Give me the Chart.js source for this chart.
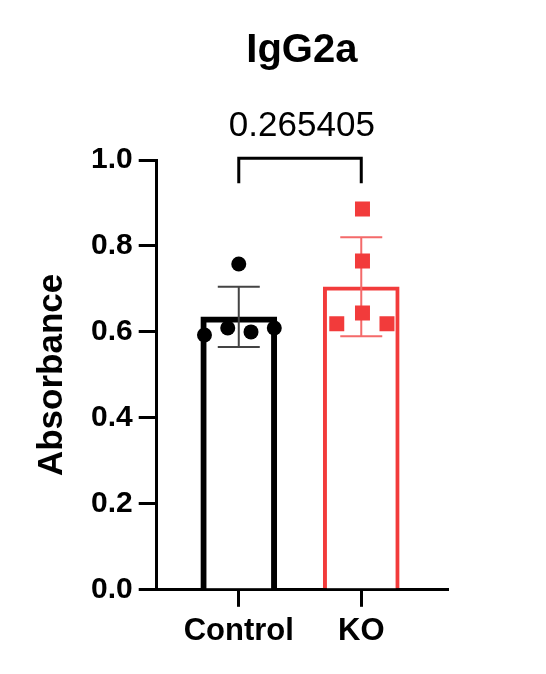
<!DOCTYPE html>
<html>
<head>
<meta charset="utf-8">
<script src="https://cdn.jsdelivr.net/npm/chart.js@4"></script>
<style>
  html, body { margin: 0; padding: 0; background: #fff; }
  #wrap { width: 546px; height: 674px; }
</style>
</head>
<body>
<div id="wrap"><canvas id="chart"></canvas></div>
<script>
// values
const groups = ['Control', 'KO'];
const barMeans = [0.635, 0.705];
const barSD = [0.07, 0.115];
const controlX = [0, -0.28, -0.09, 0.10, 0.29];
const controlY = [0.758, 0.593, 0.609, 0.600, 0.609];
const koX = [1.01, 1.01, 1.01, 0.80, 1.21];
const koY = [0.886, 0.765, 0.644, 0.619, 0.619];
const yTicks = [0, 0.2, 0.4, 0.6, 0.8, 1.0];
const pValue = '0.265405';
const bracketTop = 1.004;
const bracketLeg = 0.946;

const RED = '#F23B3B';
const FONT = "'Liberation Sans', Arial, sans-serif";

// error bars drawn right after the bar dataset, before the dots
const errorBars = {
    id: 'errorBars',
    afterDatasetDraw(chart, args) {
        if (args.index !== 2) return;
        const ctx = chart.ctx;
        const xs = chart.scales.x, ys = chart.scales.y;
        const colors = ['#444', '#F46A6A'];
        ctx.save();
        barMeans.forEach((m, i) => {
            const x = xs.getPixelForValue(i);
            const top = ys.getPixelForValue(m + barSD[i]);
            const bot = ys.getPixelForValue(m - barSD[i]);
            const cap = 21;
            ctx.strokeStyle = colors[i];
            ctx.lineWidth = 2;
            ctx.beginPath();
            ctx.moveTo(x, top); ctx.lineTo(x, bot);
            ctx.moveTo(x - cap, top); ctx.lineTo(x + cap, top);
            ctx.moveTo(x - cap, bot); ctx.lineTo(x + cap, bot);
            ctx.stroke();
        });
        ctx.restore();
    }
};

// significance bracket between the two groups
const bracket = {
    id: 'bracket',
    afterDraw(chart) {
        const ctx = chart.ctx;
        const xs = chart.scales.x, ys = chart.scales.y;
        const x0 = xs.getPixelForValue(0), x1 = xs.getPixelForValue(1);
        const yt = ys.getPixelForValue(bracketTop), yl = ys.getPixelForValue(bracketLeg);
        ctx.save();
        ctx.strokeStyle = '#000';
        ctx.lineWidth = 3;
        ctx.beginPath();
        ctx.moveTo(x0, yl); ctx.lineTo(x0, yt); ctx.lineTo(x1, yt); ctx.lineTo(x1, yl);
        ctx.stroke();
        ctx.restore();
    }
};

new Chart(document.getElementById('chart'), {
    type: 'scatter',
    data: {
        datasets: [
            {
                type: 'scatter',
                label: 'Control',
                data: controlX.map((x, i) => ({ x: x, y: controlY[i] })),
                pointStyle: 'circle',
                radius: 7.5,
                backgroundColor: '#000',
                borderWidth: 0,
                order: 0
            },
            {
                type: 'scatter',
                label: 'KO',
                data: koX.map((x, i) => ({ x: x, y: koY[i] })),
                pointStyle: 'rect',
                radius: 10.6,
                backgroundColor: RED,
                borderWidth: 0,
                order: 1
            },
            {
                type: 'bar',
                label: 'Mean',
                data: barMeans.map((m, i) => ({ x: i, y: m })),
                backgroundColor: '#fff',
                borderColor: ['#000', RED],
                borderWidth: [6, 4],
                borderSkipped: 'start',
                barThickness: 76,
                order: 2
            }
        ]
    },
    options: {
        responsive: true,
        maintainAspectRatio: false,
        animation: false,
        events: [],
        layout: { padding: { left: 0, right: 99, top: 0, bottom: 18 } },
        plugins: {
            legend: { display: false },
            tooltip: { enabled: false },
            title: {
                display: true,
                text: 'IgG2a',
                fullSize: false,
                color: '#000',
                font: { family: FONT, size: 40, weight: 'bold' },
                padding: { top: 27, bottom: 30 }
            },
            subtitle: {
                display: true,
                text: pValue,
                fullSize: false,
                color: '#000',
                font: { family: FONT, size: 35, weight: 'normal' },
                padding: { top: 0, bottom: 13 }
            }
        },
        scales: {
            x: {
                type: 'linear',
                min: -0.67,
                max: 1.70,
                offset: false,
                afterBuildTicks: (s) => { s.ticks = [{ value: 0 }, { value: 1 }]; },
                ticks: {
                    autoSkip: false,
                    maxRotation: 0,
                    color: '#000',
                    padding: 6,
                    font: { family: FONT, size: 31, weight: 'bold' },
                    callback: (v, i) => groups[i]
                },
                grid: { offset: false, drawOnChartArea: false, drawTicks: true, tickLength: 17, color: '#000', lineWidth: 3 },
                border: { display: true, color: '#000', width: 3 }
            },
            y: {
                min: 0,
                max: 1,
                afterBuildTicks: (s) => { s.ticks = yTicks.map(v => ({ value: v })); },
                ticks: {
                    color: '#000',
                    padding: 6,
                    font: { family: FONT, size: 30, weight: 'bold' },
                    callback: (v) => v.toFixed(1)
                },
                title: {
                    display: true,
                    text: 'Absorbance',
                    color: '#000',
                    font: { family: FONT, size: 35, weight: 'bold' },
                    padding: { top: 31, bottom: 12 }
                },
                grid: { drawOnChartArea: false, drawTicks: true, tickLength: 18, color: '#000', lineWidth: 3 },
                border: { display: true, color: '#000', width: 3 }
            }
        }
    },
    plugins: [errorBars, bracket]
});
</script>
</body>
</html>
